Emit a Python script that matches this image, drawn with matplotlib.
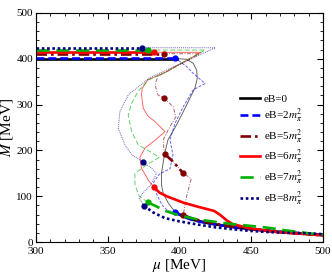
import numpy as np
import matplotlib.pyplot as plt
from matplotlib.ticker import MultipleLocator

plt.rcParams['font.family'] = ['Liberation Serif', 'DejaVu Serif']
plt.rcParams['mathtext.fontset'] = 'stix'

labels = ['eB=0', r'eB=2$m_\pi^2$', r'eB=5$m_\pi^2$', r'eB=6$m_\pi^2$',
          r'eB=7$m_\pi^2$', r'eB=8$m_\pi^2$']

# vacuum mass and transition chemical potential for each eB
M_vac = [400, 402, 411, 414, 419, 424]
mu_c = [398, 397, 389, 382.4, 378.3, 374]

# full solution curves (thin)
mu_0 = [398, 405, 409.6, 412, 412.4, 410.8, 407.3, 402.6, 397, 392, 389.5, 387.5, 387.5, 388.7, 392.2, 396.9]
M_0 = [400, 399, 390, 375, 357, 336, 314, 284, 250, 223, 190, 150, 125, 106, 85, 66]
mu_2 = [397, 401, 405, 409.6, 417.8, 409.6, 402.6, 396.9, 393.4, 395.5, 393.4, 386, 382, 384, 388, 392, 397]
M_2 = [402, 392, 383, 368, 346, 332, 295, 259, 223, 190, 160, 148, 130, 105, 80, 68, 66]
mu_5 = [389, 414, 405, 397, 390, 385, 383, 385, 389.4, 395.7, 397.5, 393.4, 389, 389, 389.9, 395.7, 402.6, 408.2, 405, 402.6]
M_5 = [411, 411, 395, 382, 370, 362, 343, 321, 314, 295, 273, 252, 225, 205, 191.5, 175, 150, 138, 100, 59]
mu_6 = [382.4, 415, 400, 390.6, 378, 374, 373.6, 374.8, 378, 382.9, 389.9, 383, 376, 372.5, 373.6, 378.3, 382.4]
M_6 = [414, 414, 388, 371, 354, 335, 321, 292, 275, 263, 241, 222, 205, 185, 161, 135, 119]
mu_7 = [378.3, 418, 400, 390.6, 378, 371, 366.7, 364.3, 366.7, 371.3, 378, 386, 378, 369, 369, 372, 377.8]
M_7 = [419, 419, 388, 371, 353, 328, 303, 277, 241, 212, 200, 185, 170, 150, 125, 100, 87]
mu_8 = [374, 425, 400, 379.4, 364.3, 358.5, 357.4, 362, 367, 374.4, 380.6, 384, 380, 374, 372, 375.3]
M_8 = [424, 424, 388, 359, 321, 284.5, 248, 212, 190, 175, 161, 150, 125, 105, 95, 79]

# stable low-mass branches (thick)
mu_lo0 = [397, 400, 405, 410, 420, 430, 440, 450, 460, 470, 480, 490, 500]
M_lo0 = [66, 60, 53, 48, 41, 36, 32, 28, 25, 22, 20, 17, 15]
mu_lo2 = [397, 400, 405, 410, 420, 430, 440, 450, 460, 470, 480, 490, 500]
M_lo2 = [66, 60, 53, 47, 41, 36, 31, 28, 25, 22, 20, 18, 15]
mu_lo5 = [402.6, 410, 420, 430, 440, 450, 460, 470, 480, 490, 500]
M_lo5 = [59, 50, 43, 37, 32, 28, 25, 22, 19, 17, 14]
mu_lo6 = [382.4, 386, 391, 402.6, 414, 424, 428, 433, 437, 449, 467, 485, 500]
M_lo6 = [119, 108, 100, 86, 76, 68, 60, 47, 39, 30, 22, 18, 15]
mu_lo7 = [377.8, 385, 390, 400, 413, 425, 437, 450, 462, 475, 490, 500]
M_lo7 = [87, 76, 68, 58, 49, 44, 39, 35, 31, 25, 19, 16]
mu_lo8 = [375.3, 382, 390, 400, 413, 425, 437, 450, 460, 475, 490, 500]
M_lo8 = [79, 64, 52, 45, 38, 32, 28, 24, 22, 20, 19, 17]

# intermediate stable piece for eB=5
mu_mid5 = [389.9, 395.7, 402.6]
M_mid5 = [191.5, 175, 150]

# transition points
dot_mu = [[], [397, 397], [389, 389.4, 389.9, 402.6, 402.6], [382.4, 382.4],
          [378.3, 377.8], [374, 374.4, 375.3]]
dot_M = [[], [402, 66], [411, 314, 191.5, 150, 59], [414, 119],
         [419, 87], [424, 175, 79]]

curves = [(mu_0, M_0), (mu_2, M_2), (mu_5, M_5), (mu_6, M_6), (mu_7, M_7), (mu_8, M_8)]
lows = [(mu_lo0, M_lo0), (mu_lo2, M_lo2), (mu_lo5, M_lo5), (mu_lo6, M_lo6),
        (mu_lo7, M_lo7), (mu_lo8, M_lo8)]
colors = ['black', '#0000ff', '#800000', '#ff0000', '#00b000', '#000080']
styles = ['-', (0, (3, 1.5)), (0, (4, 1.5, 1, 1.5)), '-', (0, (5, 2.5)), (0, (1, 1))]

fig = plt.figure(figsize=(3.32, 2.75), dpi=100)
ax = fig.add_axes([0.108, 0.12, 0.865, 0.833])

for i in range(6):
    c, ls = colors[i], styles[i]
    ax.plot(curves[i][0], curves[i][1], color=c, ls=ls, lw=0.7, alpha=0.6)
    ax.plot([300, mu_c[i]], [M_vac[i], M_vac[i]], color=c, ls=ls, lw=1.9, label=labels[i])
    ax.plot(lows[i][0], lows[i][1], color=c, ls=ls, lw=1.9)
    if i == 2:
        ax.plot(mu_mid5, M_mid5, color=c, ls=ls, lw=1.9)
    ax.plot(dot_mu[i], dot_M[i], 'o', color=c, ms=3.5, ls='none')

ax.set_xlim(300, 500)
ax.set_ylim(0, 500)
ax.xaxis.set_major_locator(MultipleLocator(50))
ax.xaxis.set_minor_locator(MultipleLocator(10))
ax.yaxis.set_major_locator(MultipleLocator(100))
ax.yaxis.set_minor_locator(MultipleLocator(20))
ax.tick_params(which='both', direction='in', top=True, right=True, labelsize=8)
ax.tick_params(axis='x', pad=3.5)
ax.tick_params(axis='y', pad=2)
ax.tick_params(which='major', length=4)
ax.tick_params(which='minor', length=2)
ax.set_xlabel(r'$\mu$ [MeV]', fontsize=11, labelpad=1)
ax.set_ylabel(r'$M$ [MeV]', fontsize=11, labelpad=1)

ax.legend(loc='upper left', bbox_to_anchor=(0.69, 0.67), frameon=False, fontsize=8,
          handlelength=1.8, handletextpad=0.4, labelspacing=0.25, borderpad=0)

fig.savefig('out.png', dpi=100)
